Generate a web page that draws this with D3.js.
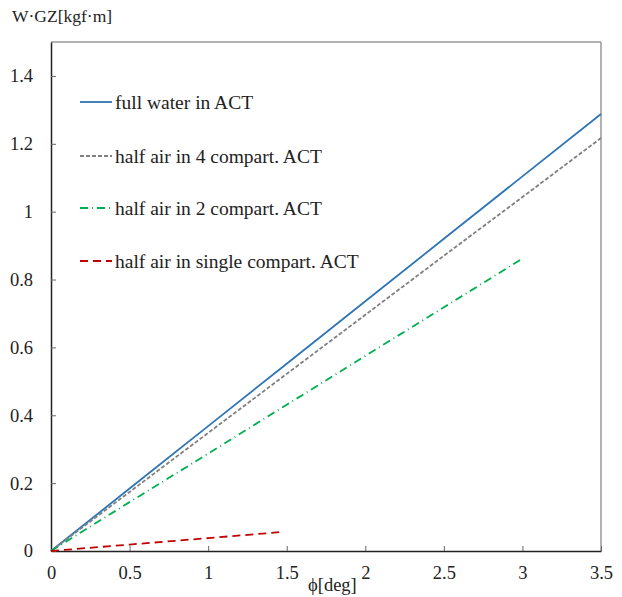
<!DOCTYPE html>
<html><head><meta charset="utf-8">
<script src="https://cdn.jsdelivr.net/npm/d3@7"></script>
<style>body{margin:0;background:#fff}svg{display:block}</style>
</head><body>
<script>
const xFull = [0, 0.5, 1, 1.5, 2, 2.5, 3, 3.5];
const fullWater = [0, 0.184, 0.368, 0.552, 0.736, 0.920, 1.104, 1.288];
const half4 = [0, 0.174, 0.348, 0.522, 0.696, 0.870, 1.043, 1.217];
const x2 = [0, 0.5, 1, 1.5, 2, 2.5, 3.0];
const half2 = [0, 0.144, 0.287, 0.431, 0.575, 0.718, 0.862];
const xSingle = [0, 0.5, 1, 1.47];
const halfSingle = [0, 0.019, 0.038, 0.056];
const xTicks = [0, 0.5, 1, 1.5, 2, 2.5, 3, 3.5];
const yTicks = [0, 0.2, 0.4, 0.6, 0.8, 1, 1.2, 1.4];
const seriesNames = ["full water in ACT", "half air in 4 compart. ACT", "half air in 2 compart. ACT", "half air in single compart. ACT"];

const W = 622, H = 597;
const FONT = "Liberation Serif";
const m = {l: 51, r: 21, t: 42, b: 46};
const svg = d3.select("body").append("svg").attr("width", W).attr("height", H)
  .attr("font-family", FONT);
const x = d3.scaleLinear().domain([0, 3.5]).range([m.l, W - m.r]);
const y = d3.scaleLinear().domain([0, 1.5]).range([H - m.b, m.t]);

svg.append("line").attr("x1", x(0)).attr("x2", x(3.5)).attr("y1", y(1.5)).attr("y2", y(1.5)).attr("stroke", "#999").attr("stroke-width", 1.5);
svg.append("line").attr("x1", x(3.5)).attr("x2", x(3.5)).attr("y1", y(1.5)).attr("y2", y(0)).attr("stroke", "#999").attr("stroke-width", 1.5);

const xAxis = svg.append("g").attr("transform", `translate(0,${y(0)})`)
  .call(d3.axisBottom(x).tickValues(xTicks).tickFormat(d => d3.format("")(d)).tickSizeInner(-5).tickSizeOuter(0).tickPadding(15));
const yAxis = svg.append("g").attr("transform", `translate(${x(0)},0)`)
  .call(d3.axisLeft(y).tickValues(yTicks).tickFormat(d => d3.format("")(d)).tickSizeInner(-5).tickSizeOuter(0).tickPadding(18));
[xAxis, yAxis].forEach(g => {
  g.attr("font-family", FONT).attr("font-size", 18.5);
  g.select(".domain").attr("stroke", "#222").attr("stroke-width", 1.5);
  g.selectAll(".tick line").attr("stroke", "#666");
  g.selectAll(".tick text").attr("fill", "#222").attr("font-family", FONT);
});

const series = [
  {xs: xFull, ys: fullWater, color: "#2e75b6", dash: null},
  {xs: xFull, ys: half4, color: "#808080", dash: "4,2"},
  {xs: x2, ys: half2, color: "#00b050", dash: "8,4,1,4"},
  {xs: xSingle, ys: halfSingle, color: "#c00000", dash: "8,5"}
];
const line = d3.line().x(d => x(d[0])).y(d => y(d[1]));
series.forEach(s => {
  svg.append("path").datum(s.xs.map((v, i) => [v, s.ys[i]]))
    .attr("d", line).attr("fill", "none").attr("stroke", s.color).attr("stroke-width", 1.8)
    .attr("stroke-dasharray", s.dash);
});

const legY = [102, 156, 208, 261];
series.forEach((s, i) => {
  svg.append("line").attr("x1", 80).attr("x2", 112).attr("y1", legY[i]).attr("y2", legY[i])
    .attr("stroke", s.color).attr("stroke-width", 1.8).attr("stroke-dasharray", s.dash);
  svg.append("text").attr("x", 115).attr("y", legY[i] + 6.5).attr("font-size", 19.5)
    .attr("font-family", FONT).attr("fill", "#222").text(seriesNames[i]);
});

svg.append("text").attr("x", 12).attr("y", 22).attr("font-size", 17.5).attr("font-family", FONT).attr("fill", "#222").text("W·GZ[kgf·m]");
svg.append("text").attr("x", 308).attr("y", 591).attr("font-size", 18.5).attr("font-family", FONT).attr("fill", "#222").text("ϕ[deg]");
</script>
</body></html>
